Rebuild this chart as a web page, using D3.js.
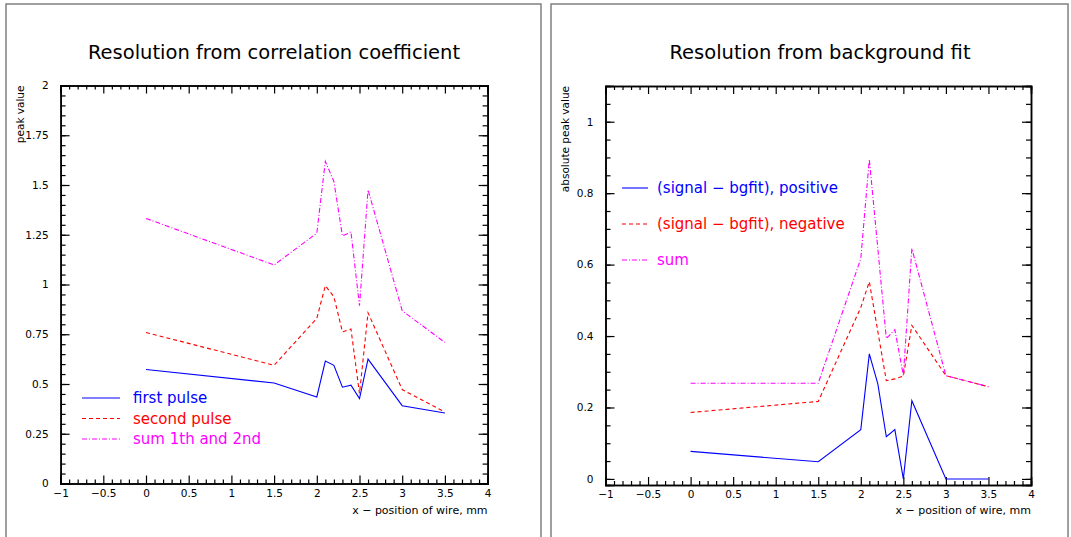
<!DOCTYPE html>
<html>
<head>
<meta charset="utf-8">
<script src="https://cdn.jsdelivr.net/npm/d3@7"></script>
<style>
  body { margin: 0; background: #fff; }
  svg { display: block; font-family: "DejaVu Sans", sans-serif; }
  .axis path, .axis line { stroke: #000; }
  .axis text { font-size: 10.5px; fill: #000; font-family: "DejaVu Sans", sans-serif; }
</style>
</head>
<body>
<svg id="chart" width="1071" height="537"></svg>
<script>
// wire positions, mm
var wirePos = [0, 1.5, 2, 2.1, 2.2, 2.3, 2.4, 2.5, 2.6, 3, 3.5];

// left pad: correlation coefficient
var firstPulse  = [0.573, 0.505, 0.435, 0.615, 0.594, 0.484, 0.494, 0.427, 0.625, 0.391, 0.354];
var secondPulse = [0.759, 0.594, 0.830, 0.994, 0.939, 0.762, 0.776, 0.452, 0.858, 0.472, 0.359];
var sumPulse    = [1.332, 1.098, 1.258, 1.619, 1.518, 1.244, 1.264, 0.893, 1.476, 0.868, 0.709];

// right pad: background fit
var bgPositive = [0.077, 0.048, 0.138, 0.350, 0.266, 0.118, 0.138, 0, 0.219, 0, 0];
var bgNegative = [0.186, 0.217, 0.480, 0.552, 0.413, 0.275, 0.280, 0.288, 0.430, 0.289, 0.258];
var bgSum      = [0.268, 0.268, 0.617, 0.895, 0.645, 0.393, 0.418, 0.290, 0.645, 0.289, 0.258];

var xTicks = [-1, -0.5, 0, 0.5, 1, 1.5, 2, 2.5, 3, 3.5, 4];
var leftYTicks = [0, 0.25, 0.5, 0.75, 1, 1.25, 1.5, 1.75, 2];
var rightYTicks = [0, 0.2, 0.4, 0.6, 0.8, 1];

var leftLegend = ['first pulse', 'second pulse', 'sum 1th and 2nd'];
var rightLegend = ['(signal \u2212 bgfit), positive', '(signal \u2212 bgfit), negative', 'sum'];

var colors = ['#0000ff', '#ff0000', '#ff00ff'];
var dashes = [null, '4,3', '5,2,1,2'];

var svg = d3.select('#chart');

// pad frames
svg.append('rect').attr('x', 6).attr('y', 4).attr('width', 535).attr('height', 540)
  .attr('fill', 'none').attr('stroke', '#808080').attr('stroke-width', 1.5);
svg.append('rect').attr('x', 551).attr('y', 4).attr('width', 517).attr('height', 540)
  .attr('fill', 'none').attr('stroke', '#808080').attr('stroke-width', 1.5);

var fmt = d3.format('~g');

var drawPad = function(p) {
  var x = d3.scaleLinear().domain([-1, 4]).range([p.left, p.right]);
  var y = d3.scaleLinear().domain(p.yDomain).range([p.bottom, p.top]);
  var g = svg.append('g');

  var xMinor = d3.range(-1, 4.001, 0.1).filter(function(v) { return Math.abs(v * 2 - Math.round(v * 2)) > 1e-6; });
  var yMinor = d3.range(0, p.yDomain[1] + 1e-6, p.yMinorStep);

  // bottom
  g.append('g').attr('class', 'axis').attr('transform', 'translate(0,' + p.bottom + ')')
    .call(d3.axisBottom(x).tickValues(xTicks).tickSize(-8).tickPadding(6).tickFormat(fmt));
  g.append('g').attr('class', 'axis').attr('transform', 'translate(0,' + p.bottom + ')')
    .call(d3.axisBottom(x).tickValues(xMinor).tickSize(-4).tickFormat(''));
  // top
  g.append('g').attr('class', 'axis').attr('transform', 'translate(0,' + p.top + ')')
    .call(d3.axisTop(x).tickValues(xTicks).tickSize(-8).tickFormat(''));
  g.append('g').attr('class', 'axis').attr('transform', 'translate(0,' + p.top + ')')
    .call(d3.axisTop(x).tickValues(xMinor).tickSize(-4).tickFormat(''));
  // left
  g.append('g').attr('class', 'axis').attr('transform', 'translate(' + p.left + ',0)')
    .call(d3.axisLeft(y).tickValues(p.yTicks).tickSize(-9).tickPadding(12).tickFormat(fmt));
  g.append('g').attr('class', 'axis').attr('transform', 'translate(' + p.left + ',0)')
    .call(d3.axisLeft(y).tickValues(yMinor).tickSize(-5).tickFormat(''));
  // right
  g.append('g').attr('class', 'axis').attr('transform', 'translate(' + p.right + ',0)')
    .call(d3.axisRight(y).tickValues(p.yTicks).tickSize(-9).tickFormat(''));
  g.append('g').attr('class', 'axis').attr('transform', 'translate(' + p.right + ',0)')
    .call(d3.axisRight(y).tickValues(yMinor).tickSize(-5).tickFormat(''));

  g.selectAll('.axis path').attr('stroke-width', 1.5);
  g.selectAll('.axis line').attr('stroke-width', 1.2);

  var line = d3.line()
    .x(function(d, i) { return x(wirePos[i]); })
    .y(function(d) { return y(d); });

  p.series.forEach(function(s, i) {
    g.append('path').datum(s)
      .attr('d', line)
      .attr('fill', 'none')
      .attr('stroke', colors[i])
      .attr('stroke-width', 1.1)
      .attr('stroke-dasharray', dashes[i]);
  });

  // legend
  p.legend.forEach(function(label, i) {
    var ly = p.legY + i * p.legStep;
    g.append('line')
      .attr('x1', p.legX1).attr('x2', p.legX2).attr('y1', ly).attr('y2', ly)
      .attr('stroke', colors[i]).attr('stroke-width', 1.1)
      .attr('stroke-dasharray', dashes[i]);
    g.append('text').attr('x', p.legText).attr('y', ly + 5)
      .attr('fill', colors[i]).style('font-size', '15px').text(label);
  });

  // title
  g.append('text').attr('x', p.titleX).attr('y', 59)
    .attr('text-anchor', 'middle').style('font-size', '19.5px').text(p.title);

  // axis titles
  g.append('text').attr('x', p.right).attr('y', 514)
    .attr('text-anchor', 'end').style('font-size', '11px').text('x \u2212 position of wire, mm');
  g.append('text').attr('transform', 'translate(' + p.yTitleX + ',' + p.top + ') rotate(-90)')
    .attr('text-anchor', 'end').style('font-size', '10.5px').text(p.yTitle);
};

drawPad({
  left: 60.6, right: 487.6, top: 85.5, bottom: 483.5,
  yDomain: [0, 2], yTicks: leftYTicks, yMinorStep: 0.05,
  series: [firstPulse, secondPulse, sumPulse],
  legend: leftLegend, legX1: 82, legX2: 120, legText: 133, legY: 398, legStep: 20.5,
  title: 'Resolution from correlation coefficient', titleX: 274,
  yTitle: 'peak value', yTitleX: 24
});

drawPad({
  left: 605.5, right: 1031, top: 86, bottom: 485,
  yDomain: [-0.017, 1.1], yTicks: rightYTicks, yMinorStep: 0.05,
  series: [bgPositive, bgNegative, bgSum],
  legend: rightLegend, legX1: 622, legX2: 648, legText: 657, legY: 188, legStep: 36,
  title: 'Resolution from background fit', titleX: 820,
  yTitle: 'absolute peak value', yTitleX: 569
});
</script>
</body>
</html>
